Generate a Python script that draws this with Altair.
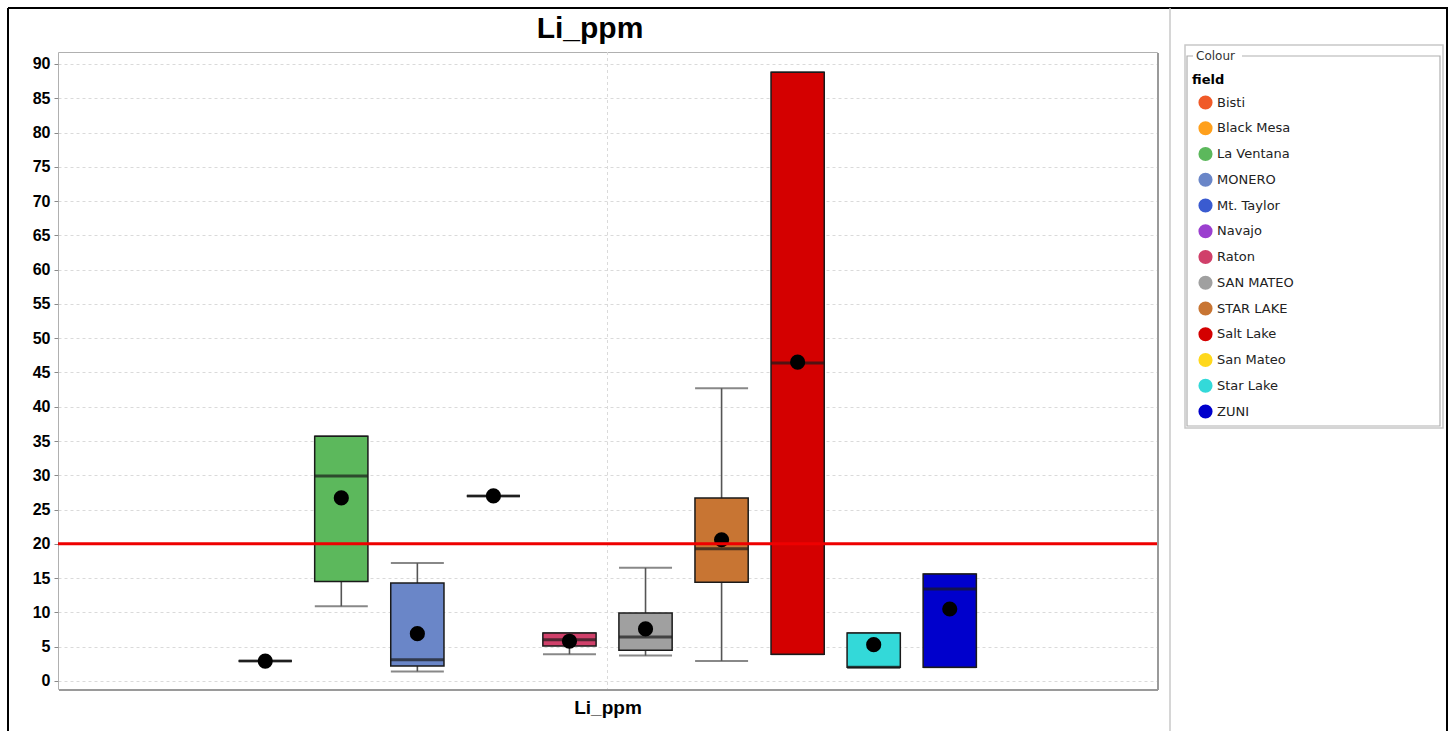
import altair as alt
import pandas as pd

# Colour mapping for every field (legend order)
fields = ["Bisti", "Black Mesa", "La Ventana", "MONERO", "Mt. Taylor", "Navajo",
          "Raton", "SAN MATEO", "STAR LAKE", "Salt Lake", "San Mateo", "Star Lake", "ZUNI"]
colours = ["#f05a28", "#ffa01c", "#5cb85c", "#6a86c8", "#3a5bd0", "#9b3fcf",
           "#d0406a", "#a0a0a0", "#c87533", "#d40000", "#ffd81c", "#33d9d9", "#0000cc"]

# Series slots along the single "Li_ppm" category
slot_order = [" ", "Bisti", "Black Mesa", "La Ventana", "MONERO", "Mt. Taylor", "Raton",
              "SAN MATEO", "STAR LAKE", "Salt Lake", "Star Lake", "ZUNI", "Navajo", "San Mateo"]

# Box-and-whisker statistics of Li_ppm per field
box_fields = ["Black Mesa", "La Ventana", "MONERO", "Mt. Taylor", "Raton",
              "SAN MATEO", "STAR LAKE", "Salt Lake", "Star Lake", "ZUNI"]
whisker_low = [2.9, 10.9, 1.4, 27.0, 3.9, 3.7, 2.9, 3.9, 2.0, 2.0]
q1 = [2.9, 14.5, 2.2, 27.0, 5.1, 4.5, 14.4, 3.9, 2.0, 2.0]
median = [2.9, 29.9, 3.1, 27.0, 6.0, 6.4, 19.3, 46.4, 2.0, 13.4]
q3 = [2.9, 35.7, 14.3, 27.0, 7.0, 9.9, 26.7, 88.8, 7.0, 15.6]
whisker_high = [2.9, 35.7, 17.2, 27.0, 7.0, 16.5, 42.7, 88.8, 7.0, 15.6]
mean = [2.9, 26.7, 6.9, 27.0, 5.8, 7.6, 20.6, 46.5, 5.3, 10.5]

threshold = 20

df = pd.DataFrame({
    "field": box_fields, "low": whisker_low, "q1": q1, "median": median,
    "q3": q3, "high": whisker_high, "mean": mean,
})

W, H = 1099, 637
FONT = "Liberation Sans"

x_enc = alt.X("field:N", scale=alt.Scale(domain=slot_order, paddingInner=0.3, paddingOuter=0.375),
              axis=alt.Axis(labels=False, ticks=False, domain=False, grid=False,
                            title="Li_ppm", titleFont=FONT, titleFontSize=19,
                            titleFontWeight="bold", titlePadding=9, titleColor="#000"))
y_scale = alt.Scale(domain=[-1.17, 91.75], nice=False, zero=False)
y_axis = alt.Axis(values=list(range(0, 95, 5)), labelFont=FONT, labelFontSize=16,
                  labelFontWeight="bold", labelColor="#000", labelOverlap=False,
                  tickSize=4, tickColor="#888", labelPadding=4, domain=False, grid=True,
                  gridColor="#dadada", gridDash=[3, 3], title=None)


def y_of(col):
    return alt.Y(col, scale=y_scale, axis=y_axis)


base = alt.Chart(df)

whiskers = base.mark_rule(color="#555555", strokeWidth=1.6).encode(
    x=x_enc, y=y_of("low:Q"), y2="high:Q")

cap_low = base.mark_tick(color="#555555", thickness=2, size=53, orient="horizontal").encode(
    x=x_enc, y=y_of("low:Q"))
cap_high = base.mark_tick(color="#555555", thickness=2, size=53, orient="horizontal").encode(
    x=x_enc, y=y_of("high:Q"))

boxes = base.mark_bar(stroke="#1a1a1a", strokeWidth=1.5, opacity=1).encode(
    x=x_enc, y=y_of("q1:Q"), y2="q3:Q",
    color=alt.Color("field:N", scale=alt.Scale(domain=fields, range=colours),
                    legend=alt.Legend(orient="none", legendX=1134, legendY=22, title="field",
                                      titleFont="DejaVu Sans", titleFontSize=13,
                                      titleFontWeight="bold", titleColor="#000",
                                      titlePadding=8, labelFont="DejaVu Sans",
                                      labelFontSize=13, labelColor="#222",
                                      symbolType="circle", symbolSize=200,
                                      symbolStrokeWidth=0, symbolOpacity=1,
                                      symbolOffset=6, labelOffset=4, rowPadding=10.75,
                                      padding=0)))

medians = base.mark_tick(color="#1a1a1a", thickness=3, size=53, orient="horizontal").encode(
    x=x_enc, y=y_of("median:Q"))

means = base.mark_circle(color="black", size=230, opacity=1).encode(
    x=x_enc, y=y_of("mean:Q"))

limit = alt.Chart(pd.DataFrame({"limit": [threshold]})).mark_rule(
    color="#ee0000", strokeWidth=3).encode(y=y_of("limit:Q"))

# Category gridline through the centre of the plot
centre_grid = alt.Chart(pd.DataFrame({"v": [0]})).mark_rule(
    color="#dadada", strokeDash=[3, 3], strokeWidth=1).encode(
    x=alt.value(W / 2), y=alt.value(0), y2=alt.value(H))

# Plot shadow on the lower and right edges
shadow = alt.Chart(pd.DataFrame({"v": [0]})).mark_rule(color="#9a9a9a", strokeWidth=2).encode(
    x=alt.value(1), x2=alt.value(W + 1), y=alt.value(H + 1))
shadow_r = alt.Chart(pd.DataFrame({"v": [0]})).mark_rule(color="#9a9a9a", strokeWidth=2).encode(
    x=alt.value(W + 1), y=alt.value(1), y2=alt.value(H + 1))

# Chart title
title = alt.Chart(pd.DataFrame({"t": ["Li_ppm"]})).mark_text(
    font=FONT, fontSize=30, fontWeight="bold", color="#000", baseline="alphabetic",
    align="center").encode(text="t:N", x=alt.value(532), y=alt.value(-14))

# Outer frame and panel divider
frame = pd.DataFrame({"v": [0]})
frame_left = alt.Chart(frame).mark_rule(color="#000", strokeWidth=2).encode(
    x=alt.value(-50), y=alt.value(-44), y2=alt.value(H + 60))
frame_top = alt.Chart(frame).mark_rule(color="#000", strokeWidth=2).encode(
    x=alt.value(-50), x2=alt.value(1390), y=alt.value(-44))
frame_right = alt.Chart(frame).mark_rule(color="#000", strokeWidth=2).encode(
    x=alt.value(1389), y=alt.value(-44), y2=alt.value(H + 60))
divider = alt.Chart(frame).mark_rule(color="#c8c8c8", strokeWidth=1.5).encode(
    x=alt.value(1112), y=alt.value(-44), y2=alt.value(H + 60))

# Legend panel: outer frame, inner titled frame and its "Colour" caption
legend_outer = alt.Chart(frame).mark_rect(fill="white", stroke="#c8c8c8", strokeWidth=1.5).encode(
    x=alt.value(1127), x2=alt.value(1385), y=alt.value(-7), y2=alt.value(376))
legend_inner = alt.Chart(frame).mark_rect(fill="white", stroke="#b0b0b0", strokeWidth=1.2).encode(
    x=alt.value(1129), x2=alt.value(1382), y=alt.value(4), y2=alt.value(374))
caption_bg = alt.Chart(frame).mark_rect(fill="white").encode(
    x=alt.value(1135), x2=alt.value(1184), y=alt.value(-2), y2=alt.value(10))
caption = alt.Chart(pd.DataFrame({"t": ["Colour"]})).mark_text(
    font="DejaVu Sans", fontSize=12, color="#333", align="left", baseline="middle").encode(
    text="t:N", x=alt.value(1138), y=alt.value(4))

chart = alt.layer(
    legend_outer, legend_inner, caption_bg, caption,
    centre_grid, shadow, shadow_r, whiskers, cap_low, cap_high, boxes, medians, means, limit,
    title, frame_left, frame_top, frame_right, divider,
).properties(
    width=W, height=H,
    autosize=alt.AutoSizeParams(type="none"),
    padding={"left": 58, "top": 52, "right": 294, "bottom": 42},
    background="white",
).configure_view(
    stroke="#b0b0b0", strokeWidth=1
).configure_axisY(
    labelOverlap=False
)

chart.save("out.html", embed_options={"renderer": "svg", "actions": False})
